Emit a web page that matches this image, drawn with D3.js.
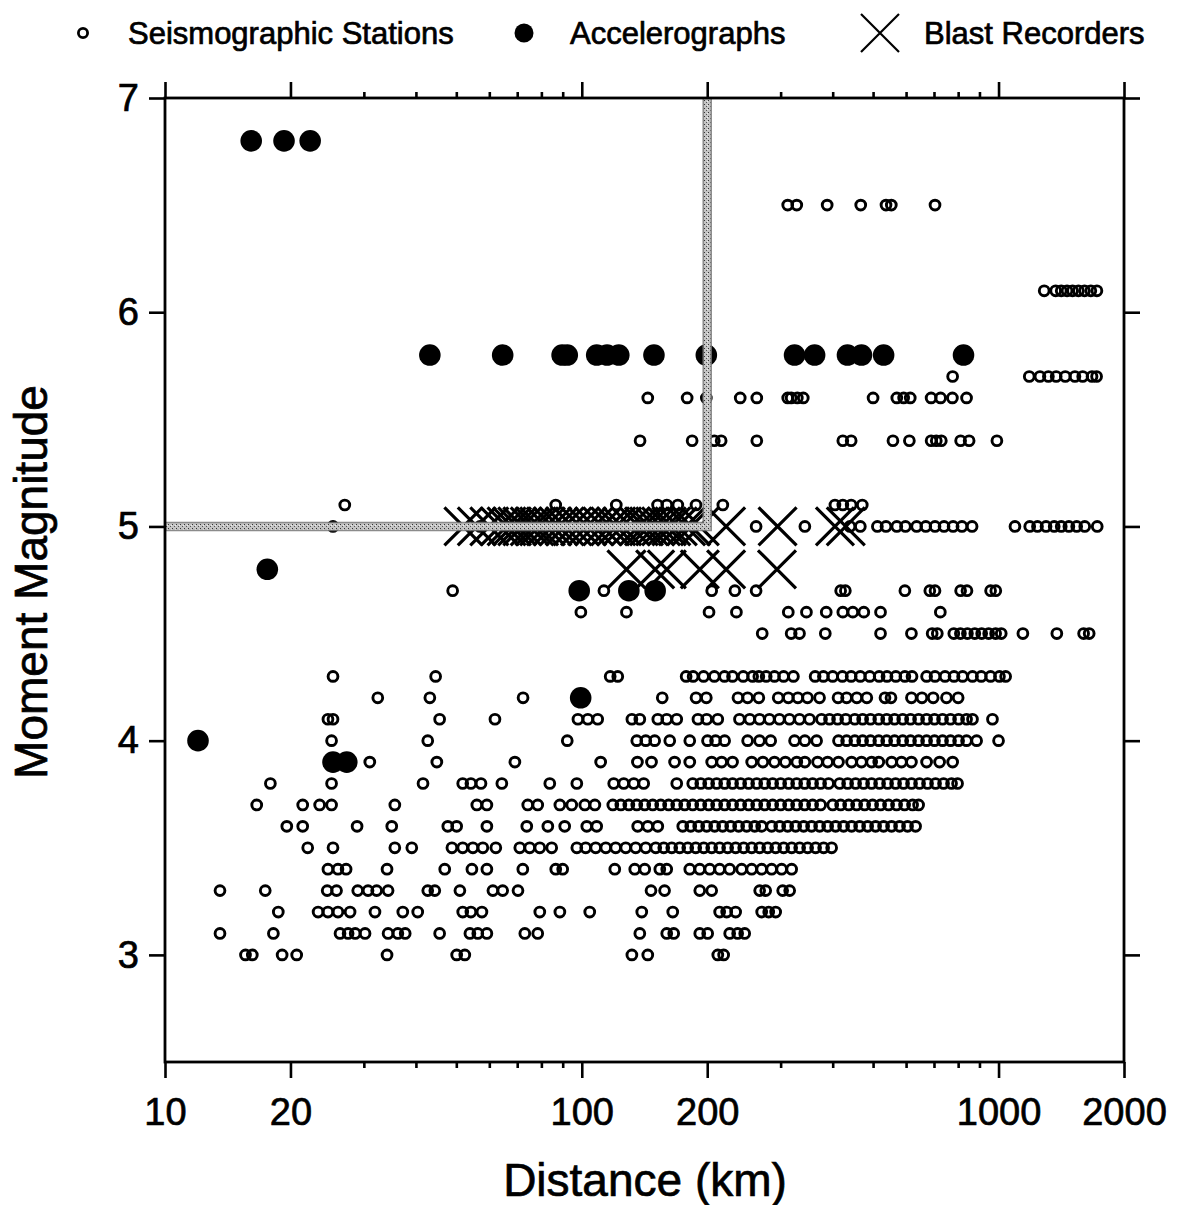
<!DOCTYPE html>
<html><head><meta charset="utf-8">
<script src="https://cdn.jsdelivr.net/npm/d3@7"></script>
<style>
body{margin:0;background:#fff}
svg{display:block}
text{font-family:"Liberation Sans",Arial,Helvetica,sans-serif;fill:#000;stroke:#000;stroke-width:0.7px}
</style>
</head><body>
<svg id="chart" width="1178" height="1205"></svg>
<script>
// ---------------- DATA ----------------
const xMajorTicks = [10, 20, 100, 200, 1000, 2000];
const xMinorTicks = [30, 40, 50, 60, 70, 80, 90, 300, 400, 500, 600, 700, 800, 900];
const yTicks = [3, 4, 5, 6, 7];
const legendLabels = ["Seismographic Stations", "Accelerographs", "Blast Recorders"];
const xTitle = "Distance (km)";
const yTitle = "Moment Magnitude";

// reference line (distance, magnitude) vertices
const refLine = [[10, 5], [200, 5], [200, 7]];

// Seismographic stations: magnitude rows and the distances (km) of each
const stationMags = [6.5, 6.1, 5.7, 5.6, 5.4, 5.1, 5.0, 4.7, 4.6, 4.5, 4.3, 4.2, 4.1, 4.0, 3.9, 3.8, 3.7, 3.6, 3.5, 3.4, 3.3, 3.2, 3.1, 3.0];
const stationDists = [
  [312, 328, 388, 467, 537, 553, 704],
  [1287, 1371, 1414, 1460, 1505, 1555, 1608, 1665, 1722],
  [776, 1185, 1257, 1317, 1375, 1446, 1525, 1592, 1676, 1719],
  [144, 179, 199, 240, 263, 312, 318, 329, 340, 500, 570, 592, 614, 689, 726, 775, 838],
  [138, 184, 208, 216, 263, 423, 443, 558, 611, 689, 709, 729, 811, 850, 991],
  [27.0, 86.6, 121, 152, 160, 170, 188, 218, 405, 423, 443, 471],
  [25.3, 57, 71, 88, 110, 138, 176, 262, 343, 440, 466, 512, 537, 570, 598, 636, 669, 704, 740, 778, 817, 864, 1095, 1188, 1240, 1300, 1360, 1414, 1475, 1540, 1610, 1725],
  [49, 113, 205, 233, 262, 418, 429, 596, 684, 704, 811, 840, 957, 985],
  [99.5, 128, 202, 235, 313, 346, 386, 423, 447, 475, 521, 725],
  [271, 318, 333, 384, 521, 618, 693, 713, 781, 810, 842, 877, 911, 947, 984, 1015, 1144, 1380, 1600, 1650],
  [25.3, 44.6, 117, 122, 178, 185, 196, 208, 220, 230, 244, 257, 266, 277, 290, 305, 322, 363, 380, 400, 422, 443, 466, 491, 517, 540, 567, 596, 620, 672, 704, 744, 782, 820, 866, 909, 957, 1005, 1040],
  [32.4, 43.2, 72.3, 156, 188, 199, 237, 250, 266, 296, 313, 330, 348, 372, 412, 432, 457, 483, 534, 552, 618, 655, 697, 750, 800],
  [24.6, 25.3, 45.6, 61.9, 97.9, 103.4, 109.2, 131.9, 137.8, 152.2, 159.9, 169, 190, 199.4, 212, 239, 253, 267, 282, 298, 315, 333, 352, 376, 393, 411, 430, 452, 472, 493, 516, 539, 563, 589, 615, 643, 672, 702, 734, 767, 802, 838, 866, 967],
  [25.1, 42.7, 92.3, 135.5, 142.4, 149.6, 162.6, 181.6, 200.3, 209.4, 220.2, 250, 267, 284, 324, 343, 366, 413, 432, 452, 472, 493, 516, 539, 563, 589, 615, 643, 672, 702, 734, 767, 802, 838, 886, 1000],
  [31.0, 44.9, 69.1, 111, 136, 147, 167, 181.6, 205, 216.6, 230, 255.7, 272, 290, 308, 328, 343, 368, 389, 413, 444, 469, 496, 516, 554, 585, 618, 672, 722, 776],
  [17.9, 25.1, 41.6, 51.8, 54.2, 57.3, 64.3, 83.8, 97.3, 119.3, 126.1, 133.3, 140.8, 169, 184.6, 193, 201.6, 210.7, 220.2, 230.1, 240.6, 251.4, 262.9, 274.7, 287.1, 300.1, 313.6, 327.8, 342.6, 358, 374.2, 391.1, 415.6, 434.4, 454, 474.5, 495.9, 518.3, 541.7, 566.2, 591.7, 618.4, 646.4, 675.5, 706.1, 738, 771.3, 797.4],
  [16.6, 21.4, 23.5, 25.1, 35.6, 56.0, 59.2, 74.2, 78.4, 88.6, 94.6, 101.7, 107.5, 118.7, 124.1, 129.7, 135.5, 141.6, 148, 154.7, 161.6, 169, 176.6, 184.6, 193, 201.6, 210.7, 220.2, 230.1, 240.6, 251.4, 262.9, 274.7, 287.1, 300.1, 313.6, 327.8, 342.6, 358, 374.2, 400, 418, 437, 456.6, 477.2, 498.7, 521.2, 544.7, 569.3, 595, 621.9, 643],
  [19.6, 21.4, 28.9, 35.0, 47.7, 50.1, 59.2, 73.8, 82.9, 91.0, 102.8, 108.6, 136.2, 144, 152.2, 174.7, 182.6, 190.8, 199.4, 208.4, 217.8, 227.7, 237.9, 248.7, 260, 270.2, 285.5, 298.5, 311.9, 326, 340.7, 356, 372.2, 389, 406.5, 424.9, 444.1, 464.2, 485.2, 507, 529.9, 553.8, 578.8, 604.9, 632.4],
  [22.0, 25.3, 35.6, 39.1, 48.8, 51.8, 54.8, 57.9, 62.2, 71.0, 75.0, 79.3, 84.7, 97.3, 102.2, 108, 114.2, 120.6, 127.5, 134.7, 142.4, 150.5, 157.3, 164.4, 171.8, 179.6, 187.7, 196.2, 205, 214.2, 223.9, 234, 244.6, 255.7, 267.2, 279.3, 291.9, 305.1, 318.9, 333.3, 348.3, 364, 380.5, 397.7],
  [24.6, 26.0, 27.2, 34.1, 46.9, 54.5, 59.2, 72.2, 86.6, 90.0, 120, 134, 141.6, 153.9, 159.9, 181.6, 191.9, 202.8, 214.2, 226.4, 241.9, 255.7, 270.2, 285.5, 301.7, 318.9],
  [13.55, 17.4, 24.5, 25.8, 29.0, 30.7, 32.2, 34.3, 42.7, 44.4, 51.0, 61.2, 64.6, 70.3, 146.6, 158, 191.9, 205, 267.2, 276.3, 303.4, 315.4],
  [18.7, 23.3, 24.6, 26.0, 27.8, 31.9, 37.2, 40.4, 51.8, 54.2, 57.6, 79.3, 88.6, 104.5, 139.3, 165.3, 214.2, 222.7, 234, 270.2, 280.9, 291.9],
  [13.55, 18.2, 26.3, 27.5, 28.6, 30.2, 34.3, 36.2, 37.7, 45.6, 53.9, 56.3, 59.2, 73.0, 78.4, 137.8, 159.9, 166.2, 191.9, 200.5, 226.4, 236.6, 246],
  [15.6, 16.2, 19.1, 20.7, 34.1, 50.1, 52.4, 131.9, 144, 212, 219]
];

// Accelerographs
const accelMags = [6.8, 5.8, 4.8, 4.7, 4.2, 4.0, 3.9];
const accelDists = [
  [16.1, 19.3, 22.3],
  [43.2, 64.6, 89.7, 92.3, 108.6, 115, 122.7, 149, 199, 324, 362, 434, 469, 530, 824],
  [17.6],
  [98.6, 129.7, 150],
  [99.4],
  [12.0],
  [25.3, 27.3]
];

// Blast recorders
const blastMags = [5.0, 4.8];
const blastDists = [
  [52, 56, 60, 63.6, 66, 68, 70, 72, 75, 77, 79, 82, 85, 88, 91, 95, 99, 103, 107, 112, 117, 121, 125, 131, 137, 141, 145, 150, 155, 160, 164, 170, 178, 183, 192, 222, 295, 405, 430],
  [128, 150, 160, 192, 222, 294]
];

// ---------------- CHART ----------------
const svg = d3.select("#chart");
const x = d3.scaleLog().domain([10, 2000]).range([165, 1124]);
const y = d3.scaleLinear().domain([2.5, 7]).range([1062, 98]);

const defs = svg.append("defs");
const pat = defs.append("pattern").attr("id", "speck").attr("patternUnits", "userSpaceOnUse")
  .attr("width", 4).attr("height", 4);
pat.append("rect").attr("width", 4).attr("height", 4).attr("fill", "#c4c4c4");
pat.append("rect").attr("x", 0).attr("y", 0).attr("width", 1).attr("height", 1).attr("fill", "#333");
pat.append("rect").attr("x", 2).attr("y", 2).attr("width", 1).attr("height", 1).attr("fill", "#555");
pat.append("rect").attr("x", 3).attr("y", 1).attr("width", 1).attr("height", 1).attr("fill", "#eee");

const flat = (mags, dists) => mags.flatMap((m, i) => dists[i].map(d => ({m, d})));
const stations = flat(stationMags, stationDists);
const accels = flat(accelMags, accelDists);
const blasts = flat(blastMags, blastDists);

// markers
const gMarks = svg.append("g");
gMarks.selectAll("circle.st").data(stations).join("circle").attr("class", "st")
  .attr("cx", p => x(p.d)).attr("cy", p => y(p.m)).attr("r", 4.9)
  .attr("fill", "none").attr("stroke", "#000").attr("stroke-width", 2.9);
gMarks.selectAll("path.bl").data(blasts).join("path").attr("class", "bl")
  .attr("transform", p => `translate(${x(p.d)},${y(p.m)})`)
  .attr("d", "M-19,-19L19,19M-19,19L19,-19")
  .attr("fill", "none").attr("stroke", "#000").attr("stroke-width", 3.2);
gMarks.selectAll("circle.ac").data(accels).join("circle").attr("class", "ac")
  .attr("cx", p => x(p.d)).attr("cy", p => y(p.m)).attr("r", 10.8)
  .attr("fill", "#000");

// reference line
const line = d3.line().x(p => x(p[0])).y(p => y(p[1]));
svg.append("path").attr("d", line(refLine)).attr("fill", "none")
  .attr("stroke", "#777").attr("stroke-width", 9.5).attr("opacity", 0.85);
svg.append("path").attr("d", line(refLine)).attr("fill", "none")
  .attr("stroke", "url(#speck)").attr("stroke-width", 6.5);

// axes
const fmt = d3.format("d");
function styleAxis(g) {
  g.select(".domain").remove();
  g.selectAll(".tick line").attr("stroke", "#000").attr("stroke-width", 2.6);
  g.selectAll(".tick text").attr("font-size", 38).attr("font-family", '"Liberation Sans",Arial,sans-serif').attr("fill", "#000");
}
svg.append("g").attr("transform", "translate(0,1062)")
  .call(d3.axisBottom(x).tickValues(xMajorTicks).tickSize(16).tickPadding(20).tickFormat(fmt)).call(styleAxis);
svg.append("g").attr("transform", "translate(0,1062)")
  .call(d3.axisBottom(x).tickValues(xMinorTicks).tickSize(6).tickFormat("")).call(styleAxis);
svg.append("g").attr("transform", "translate(0,98)")
  .call(d3.axisTop(x).tickValues(xMajorTicks).tickSize(16).tickFormat("")).call(styleAxis);
svg.append("g").attr("transform", "translate(0,98)")
  .call(d3.axisTop(x).tickValues(xMinorTicks).tickSize(6).tickFormat("")).call(styleAxis);
svg.append("g").attr("transform", "translate(165,0)")
  .call(d3.axisLeft(y).tickValues(yTicks).tickSize(16).tickPadding(10).tickFormat(fmt)).call(styleAxis);
svg.append("g").attr("transform", "translate(1124,0)")
  .call(d3.axisRight(y).tickValues(yTicks).tickSize(16).tickFormat("")).call(styleAxis);

// frame
svg.append("rect").attr("x", x(10)).attr("y", y(7)).attr("width", x(2000) - x(10)).attr("height", y(2.5) - y(7))
  .attr("fill", "none").attr("stroke", "#000").attr("stroke-width", 2.8);

// titles
svg.append("text").attr("x", 645).attr("y", 1196).attr("text-anchor", "middle")
  .attr("font-size", 46).text(xTitle);
svg.append("text").attr("transform", "translate(47,582) rotate(-90)").attr("text-anchor", "middle")
  .attr("font-size", 46).text(yTitle);

// legend
const lg = svg.append("g");
lg.append("circle").attr("cx", 83).attr("cy", 33).attr("r", 4.6).attr("fill", "none").attr("stroke", "#000").attr("stroke-width", 2.8);
lg.append("text").attr("x", 128).attr("y", 44).attr("font-size", 31).text(legendLabels[0]);
lg.append("circle").attr("cx", 524).attr("cy", 33).attr("r", 9.5).attr("fill", "#000");
lg.append("text").attr("x", 570).attr("y", 44).attr("font-size", 31).text(legendLabels[1]);
lg.append("path").attr("transform", "translate(880,33)").attr("d", "M-19,-19L19,19M-19,19L19,-19")
  .attr("fill", "none").attr("stroke", "#000").attr("stroke-width", 2.2);
lg.append("text").attr("x", 924).attr("y", 44).attr("font-size", 31).text(legendLabels[2]);
</script>
</body></html>
